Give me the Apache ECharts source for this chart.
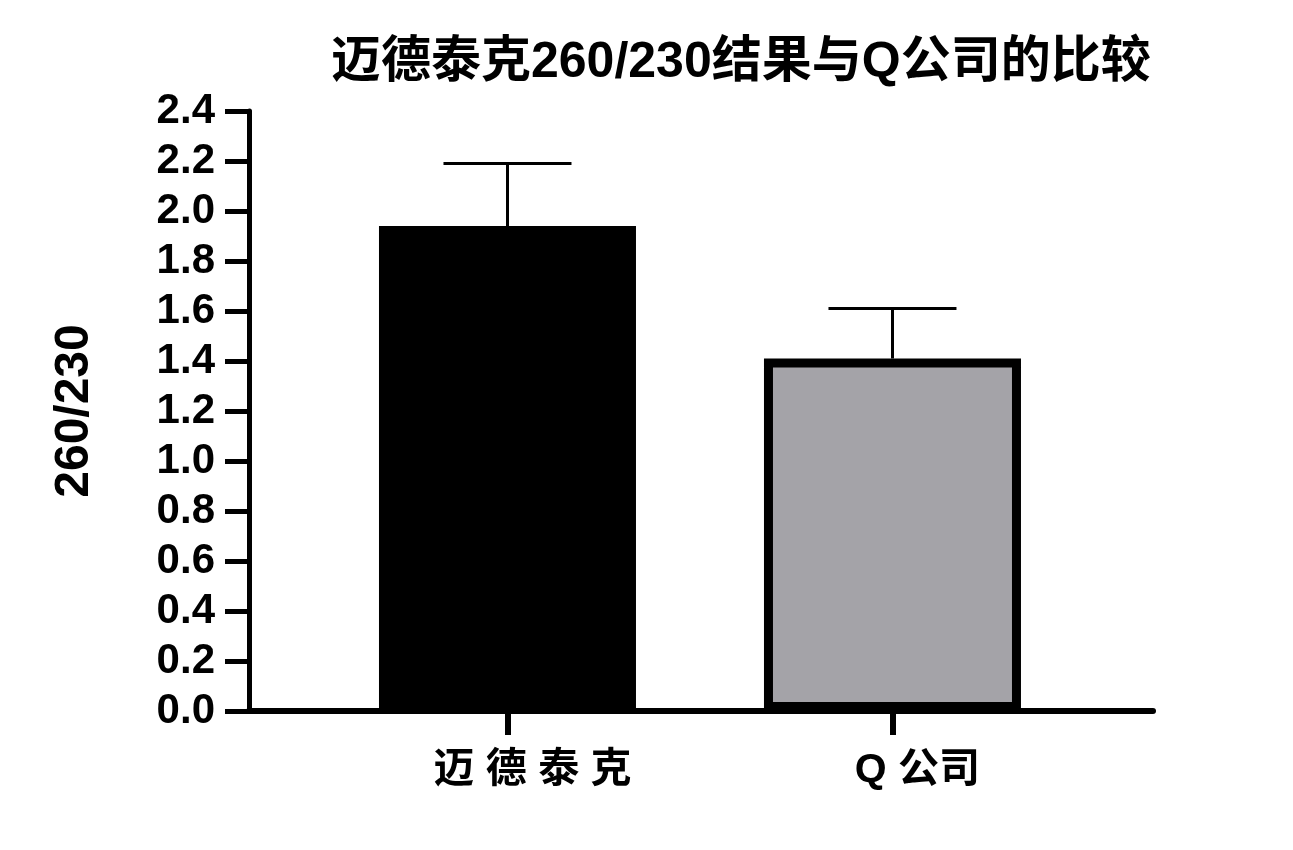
<!DOCTYPE html>
<html>
<head>
<meta charset="utf-8">
<script src="https://cdn.jsdelivr.net/npm/echarts@6/dist/echarts.min.js"></script>
<style>html,body{margin:0;padding:0;background:#fff}#c{width:1293px;height:850px}</style>
</head>
<body>
<div id="c"></div>
<script>
const titleText = '迈德泰克260/230结果与Q公司的比较';
const yAxisName = '260/230';
const categories = ['迈德泰克', 'Q 公司'];
const means = [1.94, 1.41];
const errors = [0.25, 0.20];
const barColors = ['#000000', '#a4a3a8'];
const yMin = 0, yMax = 2.4, yStep = 0.2;

const FONT = '"Liberation Sans", "Noto Sans CJK SC", sans-serif';
const catIdx = categories.map((c, i) => i);

const chart = echarts.init(document.getElementById('c'), null, {renderer: 'canvas'});
chart.setOption({
  animation: false,
  backgroundColor: '#ffffff',
  title: {
    text: titleText,
    left: 326,
    top: 33,
    textStyle: {fontFamily: FONT, fontWeight: 'bold', fontSize: 50, color: '#000'}
  },
  grid: {left: 249, right: 140, top: 111, bottom: 139, containLabel: false},
  xAxis: {
    type: 'value',
    min: -0.6714,
    max: 1.6767,
    axisLine: {show: true, onZero: false, lineStyle: {color: '#000', width: 6}},
    axisTick: {show: true, customValues: catIdx, length: 24, lineStyle: {color: '#000', width: 6}},
    axisLabel: {
      show: true,
      customValues: catIdx,
      formatter: v => {
        const name = categories[Math.round(v)];
        return /^[\u4e00-\u9fff]+$/.test(name) ? name.split('').join(' ') : name;
      },
      margin: 39,
      padding: [0, 0, 0, 50],
      fontFamily: FONT, fontWeight: 'bold', fontSize: 41, color: '#000'
    },
    splitLine: {show: false}
  },
  yAxis: {
    type: 'value',
    min: yMin, max: yMax, interval: yStep,
    name: yAxisName,
    nameLocation: 'middle',
    nameRotate: 90,
    nameGap: 150,
    nameTextStyle: {fontFamily: FONT, fontWeight: 'bold', fontSize: 48, color: '#000'},
    axisLine: {show: true, onZero: false, lineStyle: {color: '#000', width: 5}},
    axisTick: {show: true, length: 24, lineStyle: {color: '#000', width: 5}},
    axisLabel: {
      formatter: v => v.toFixed(1),
      margin: 34,
      fontFamily: FONT, fontWeight: 'bold', fontSize: 42, color: '#000'
    },
    splitLine: {show: false}
  },
  series: [
    {
      type: 'bar',
      barWidth: 257,
      data: means.map((m, i) => ({
        value: [catIdx[i], m],
        itemStyle: {color: barColors[i], borderColor: '#000', borderWidth: 9}
      })),
      z: 2
    },
    {
      type: 'custom',
      data: means.map((m, i) => [catIdx[i], m, m + errors[i]]),
      renderItem: (params, api) => {
        const x = api.value(0);
        const base = api.coord([x, api.value(1)]);
        const top = api.coord([x, api.value(2)]);
        const half = 64;
        const style = {stroke: '#000', lineWidth: 3};
        return {
          type: 'group',
          children: [
            {type: 'line', shape: {x1: base[0], y1: base[1], x2: top[0], y2: top[1]}, style},
            {type: 'line', shape: {x1: top[0] - half, y1: top[1], x2: top[0] + half, y2: top[1]}, style}
          ]
        };
      },
      z: 3
    }
  ]
});
</script>
</body>
</html>
